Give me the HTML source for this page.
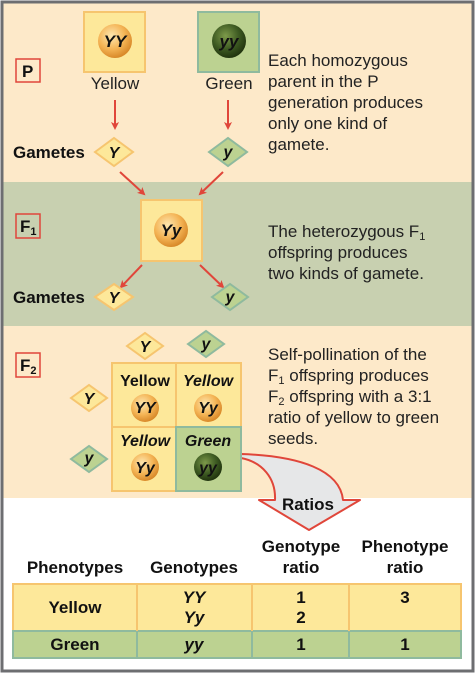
<!DOCTYPE html><html><head><style>body{margin:0;background:#fff}svg{display:block}text{font-family:"Liberation Sans",sans-serif}</style></head><body>
<svg width="475" height="673" viewBox="0 0 475 673" xmlns="http://www.w3.org/2000/svg">
<defs>
<radialGradient id="ys" cx="40%" cy="35%" r="65%"><stop offset="0" stop-color="#fde7b0"/><stop offset="0.6" stop-color="#f4b455"/><stop offset="1" stop-color="#d98a2a"/></radialGradient>
<radialGradient id="gs" cx="40%" cy="35%" r="65%"><stop offset="0" stop-color="#7d9a4a"/><stop offset="0.6" stop-color="#3d5a22"/><stop offset="1" stop-color="#22350f"/></radialGradient>
<marker id="ah" markerWidth="8" markerHeight="8" refX="6" refY="4" orient="auto" markerUnits="userSpaceOnUse"><path d="M0,0 L8,4 L0,8 L2,4z" fill="#e0463a"/></marker>
</defs>
<rect x="0" y="0" width="475" height="673" fill="#fff"/>
<rect x="3" y="3" width="469" height="180" fill="#fde9c9"/>
<rect x="3" y="182" width="469" height="144" fill="#c8d0b0"/>
<rect x="3" y="326" width="469" height="172" fill="#fde9c9"/>
<rect x="2" y="2" width="471" height="669" fill="none" stroke="#6d6e71" stroke-width="3"/>
<g fill="none" stroke="#e0463a" stroke-width="1.5">
<rect x="16" y="59" width="24" height="23"/><rect x="16" y="214" width="24" height="24"/><rect x="16" y="353" width="24" height="24"/></g>
<g font-weight="bold" font-size="17" fill="#111"><text x="22" y="77">P</text><text x="20" y="232">F<tspan font-size="11" dy="3">1</tspan></text><text x="20" y="371">F<tspan font-size="11" dy="3">2</tspan></text></g>
<rect x="84" y="12" width="61" height="60" fill="#fde89a" stroke="#f6c56f" stroke-width="2"/>
<rect x="198" y="12" width="61" height="60" fill="#bcd291" stroke="#8fba9e" stroke-width="2"/>
<rect x="141" y="200" width="61" height="61" fill="#fde89a" stroke="#f6c56f" stroke-width="2"/>
<circle cx="115" cy="41" r="17" fill="url(#ys)"/><circle cx="229" cy="41" r="17" fill="url(#gs)"/><circle cx="171" cy="230" r="17" fill="url(#ys)"/>
<g font-weight="bold" font-style="italic" font-size="17" text-anchor="middle" fill="#111"><text x="115" y="47">YY</text><text x="229" y="47">yy</text><text x="171" y="236">Yy</text></g>
<g font-size="17" text-anchor="middle" fill="#222"><text x="115" y="89">Yellow</text><text x="229" y="89">Green</text></g>
<g stroke="#e0463a" stroke-width="2" marker-end="url(#ah)"><line x1="115" y1="100" x2="115" y2="128"/><line x1="228" y1="100" x2="228" y2="128"/><line x1="120" y1="172" x2="144" y2="194"/><line x1="223" y1="172" x2="200" y2="194"/><line x1="142" y1="265" x2="121" y2="287"/><line x1="200" y1="265" x2="223" y2="287"/></g>
<g font-weight="bold" font-size="17" fill="#111"><text x="13" y="158">Gametes</text><text x="13" y="303">Gametes</text></g>
<g stroke-width="2">
<path d="M95,152 L114,138 L133,152 L114,166z" fill="#fde89a" stroke="#f6c56f"/>
<path d="M209,152 L228,138 L247,152 L228,166z" fill="#bcd291" stroke="#8fba9e"/>
<path d="M95,297 L114,284 L133,297 L114,310z" fill="#fde89a" stroke="#f6c56f"/>
<path d="M212,297 L230,284 L248,297 L230,310z" fill="#bcd291" stroke="#8fba9e"/>
<path d="M127,346 L145,333 L163,346 L145,359z" fill="#fde89a" stroke="#f6c56f"/>
<path d="M188,344 L206,331 L224,344 L206,357z" fill="#bcd291" stroke="#8fba9e"/>
<path d="M71,398 L89,385 L107,398 L89,411z" fill="#fde89a" stroke="#f6c56f"/>
<path d="M71,459 L89,446 L107,459 L89,472z" fill="#bcd291" stroke="#8fba9e"/>
</g>
<g font-weight="bold" font-style="italic" font-size="16" text-anchor="middle" fill="#111"><text x="114" y="158">Y</text><text x="228" y="157">y</text><text x="114" y="303">Y</text><text x="230" y="302">y</text><text x="145" y="352">Y</text><text x="206" y="349">y</text><text x="89" y="404">Y</text><text x="89" y="463">y</text></g>
<rect x="112" y="363" width="64" height="64" fill="#fde89a" stroke="#f6c56f" stroke-width="2"/>
<rect x="176" y="363" width="65" height="64" fill="#fde89a" stroke="#f6c56f" stroke-width="2"/>
<rect x="112" y="427" width="64" height="64" fill="#fde89a" stroke="#f6c56f" stroke-width="2"/>
<path d="M241,454 C300,456 340,470 343,500 L360,500 L309,530 L259,500 L275,500 C276,478 262,462 241,458 Z" fill="#e6e7e8" stroke="#e0463a" stroke-width="2" stroke-linejoin="round"/>
<rect x="176" y="427" width="65" height="64" fill="#bcd291" stroke="#8fba9e" stroke-width="2"/>
<circle cx="145" cy="408" r="14" fill="url(#ys)"/><circle cx="208" cy="408" r="14" fill="url(#ys)"/><circle cx="145" cy="467" r="14" fill="url(#ys)"/><circle cx="208" cy="467" r="14" fill="url(#gs)"/>
<g font-weight="bold" font-size="16" text-anchor="middle" fill="#111"><text x="145" y="386">Yellow</text><text x="208" y="386" font-style="italic">Yellow</text><text x="145" y="446" font-style="italic">Yellow</text><text x="208" y="446" font-style="italic">Green</text>
<g font-style="italic" font-size="16"><text x="145" y="413">YY</text><text x="208" y="413">Yy</text><text x="145" y="473">Yy</text><text x="208" y="473">yy</text></g>
<text x="308" y="510" font-size="17">Ratios</text></g>
<g font-size="17" fill="#222"><text x="268" y="66">Each homozygous</text><text x="268" y="87">parent in the P</text><text x="268" y="108">generation produces</text><text x="268" y="129">only one kind of</text><text x="268" y="150">gamete.</text>
<text x="268" y="237">The heterozygous F<tspan font-size="11" dy="3">1</tspan></text><text x="268" y="258">offspring produces</text><text x="268" y="279">two kinds of gamete.</text>
<text x="268" y="360">Self-pollination of the</text><text x="268" y="381">F<tspan font-size="11" dy="3">1</tspan><tspan dy="-3"> offspring produces</tspan></text><text x="268" y="402">F<tspan font-size="11" dy="3">2</tspan><tspan dy="-3"> offspring with a 3:1</tspan></text><text x="268" y="423">ratio of yellow to green</text><text x="268" y="444">seeds.</text></g>
<rect x="13" y="584" width="448" height="47" fill="#fde89a" stroke="#f6c56f" stroke-width="2"/>
<rect x="13" y="631" width="448" height="27" fill="#bcd291" stroke="#8fba9e" stroke-width="2"/>
<g stroke="#f6c56f" stroke-width="2"><line x1="137" y1="584" x2="137" y2="631"/><line x1="252" y1="584" x2="252" y2="631"/><line x1="349" y1="584" x2="349" y2="631"/></g>
<g stroke="#8fba9e" stroke-width="2"><line x1="137" y1="631" x2="137" y2="658"/><line x1="252" y1="631" x2="252" y2="658"/><line x1="349" y1="631" x2="349" y2="658"/></g>
<g font-weight="bold" font-size="17" text-anchor="middle" fill="#111"><text x="75" y="573">Phenotypes</text><text x="194" y="573">Genotypes</text><text x="301" y="552">Genotype</text><text x="301" y="573">ratio</text><text x="405" y="552">Phenotype</text><text x="405" y="573">ratio</text>
<text x="75" y="613">Yellow</text><text x="75" y="650">Green</text>
<g font-style="italic"><text x="194" y="603">YY</text><text x="194" y="623">Yy</text><text x="194" y="650">yy</text></g>
<text x="301" y="603">1</text><text x="301" y="623">2</text><text x="301" y="650">1</text><text x="405" y="603">3</text><text x="405" y="650">1</text></g>
</svg></body></html>
